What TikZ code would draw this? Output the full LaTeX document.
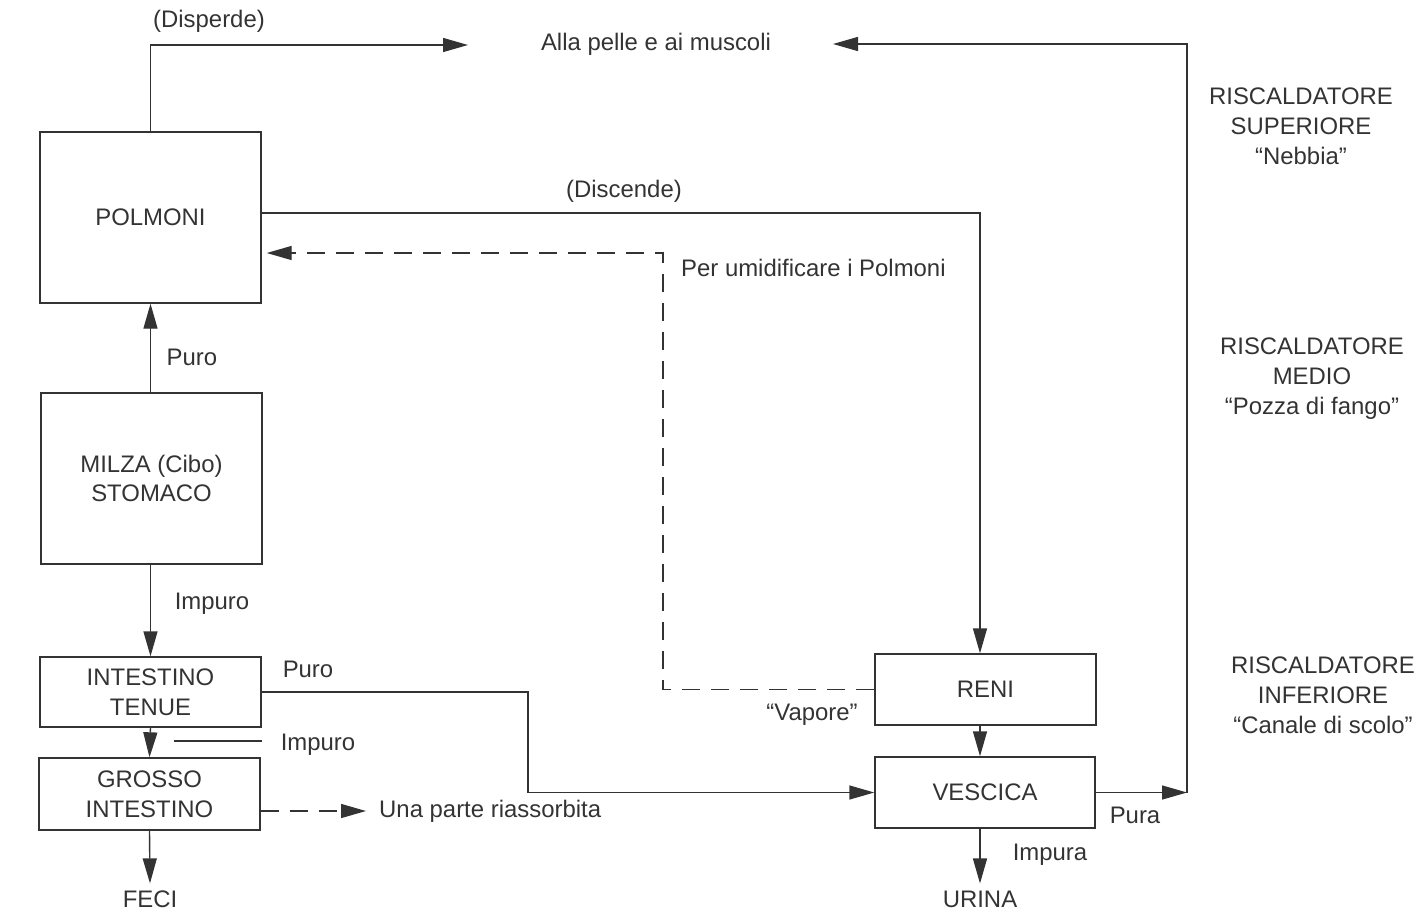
\documentclass[tikz,border=0pt]{standalone}
\usepackage{fontspec}
\setmainfont{Liberation Sans}
\usetikzlibrary{arrows.meta,calc}
\definecolor{ink}{HTML}{333333}
\begin{document}
\begin{tikzpicture}[x=1bp,y=-1bp,
  every node/.style={text=ink,font=\fontsize{24}{30}\selectfont},
  organ/.style={draw=ink,line width=1.4bp,inner sep=0pt,align=center,minimum width=221bp},
  lbl/.style={inner sep=1bp,align=center},
  conn/.style={draw=ink,line width=1.4bp},
  arr/.style={conn,-{Triangle[length=25bp,width=14bp]}},
  dsh/.style={dash pattern=on 18bp off 11bp}]
\useasboundingbox (0,0) rectangle (1419,912);

% boxes
\node[organ,minimum height=171bp] (polmoni) at (150.5,217.5) {POLMONI};
\node[organ,minimum height=171bp] (milza) at (151.5,478.5) {MILZA (Cibo)\\STOMACO};
\node[organ,minimum height=70bp] (tenue) at (150.5,692) {INTESTINO\\TENUE};
\node[organ,minimum height=72bp] (grosso) at (149.5,794) {GROSSO\\INTESTINO};
\node[organ,minimum height=71bp] (reni) at (985.5,689.5) {RENI};
\node[organ,minimum height=71bp,minimum width=220bp] (vescica) at (985,792.5) {VESCICA};

% text labels
\node[lbl] (disperde) at (209,21) {(Disperde)};
\node[lbl] (pelle) at (656,44) {Alla pelle e ai muscoli};
\node[lbl] (discende) at (624,191) {(Discende)};
\node[lbl,anchor=west] (umid) at (680,268) {Per umidificare i Polmoni};
\node[lbl] (vapore) at (812,715) {“Vapore”};
\node[lbl] (puro1) at (192,357) {Puro};
\node[lbl] (impuro1) at (212,604) {Impuro};
\node[lbl] (puro2) at (308,669) {Puro};
\node[lbl] (impuro2) at (318,745) {Impuro};
\node[lbl,anchor=west] (riass) at (378,811) {Una parte riassorbita};
\node[lbl] (feci) at (150,899) {FECI};
\node[lbl] (urina) at (980,899) {URINA};
\node[lbl] (pura) at (1135,815) {Pura};
\node[lbl] (impura) at (1050,855) {Impura};
\node[lbl] (sup) at (1301,126) {RISCALDATORE\\SUPERIORE\\“Nebbia”};
\node[lbl] (med) at (1312,379) {RISCALDATORE\\MEDIO\\“Pozza di fango”};
\node[lbl] (inf) at (1323,695) {RISCALDATORE\\INFERIORE\\“Canale di scolo”};

% helper coordinates
\coordinate (dispEnd) at (468,45);
\coordinate (skinEnd) at (833,44);
\coordinate (puraTip) at (1187,792.5);
\coordinate (disc) at (980,213);
\coordinate (dcorner) at (663,253);
\coordinate (tv) at (528,692);
\coordinate (imp2s) at (174,741);
\coordinate (riassTip) at (366,811);

% connectors
\draw[arr] (polmoni.north) |- (dispEnd);
\draw[arr] (vescica.east) -- (puraTip);
\draw[arr] (puraTip) |- (skinEnd);
\draw[arr] (polmoni.east |- disc) -| (disc |- reni.north);
\draw[arr,dsh] (reni.west) -| (dcorner) -- ([xshift=5bp]polmoni.east |- dcorner);
\draw[arr] (milza.north -| polmoni.south) -- (polmoni.south);
\draw[arr] (milza.south -| tenue.north) -- (tenue.north);
\draw[arr] (tenue.south) -- (grosso.north);
\draw[conn] (imp2s) -- (imp2s -| tenue.east);
\draw[arr] (tenue.east) -- (tv) |- (vescica.west);
\draw[arr,dsh] (grosso.east |- riassTip) -- (riassTip);
\draw[arr] (grosso.south) -- ([yshift=6bp]feci.north);
\draw[arr] (disc |- reni.south) -- (disc |- vescica.north);
\draw[arr] (disc |- vescica.south) -- ([yshift=6bp]urina.north);
\end{tikzpicture}
\end{document}
